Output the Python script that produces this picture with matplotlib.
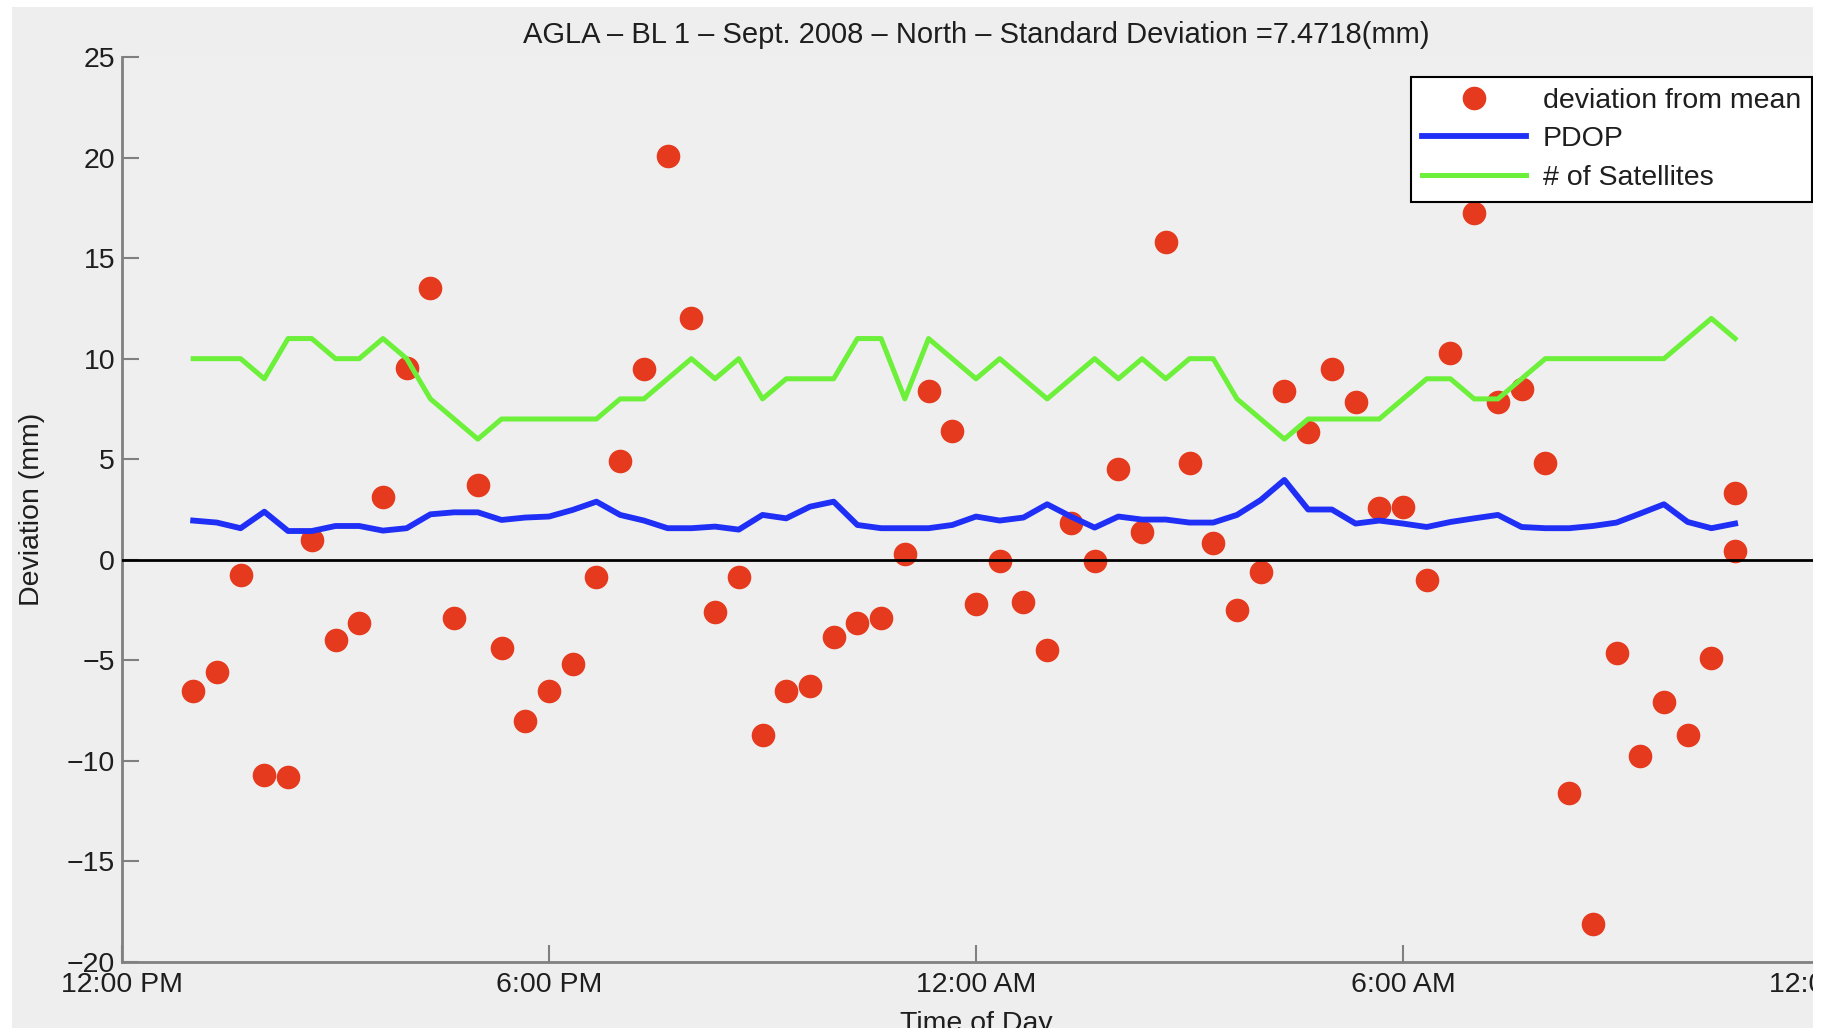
import matplotlib.pyplot as plt
import pandas as pd
from matplotlib.patches import Rectangle

# sample times (every 20 min, 1:00 PM -> 10:40 AM next day)
times = ["13:00", "13:20", "13:40", "14:00", "14:20", "14:40", "15:00", "15:20",
         "15:40", "16:00", "16:20", "16:40", "17:00", "17:20", "17:40", "18:00",
         "18:20", "18:40", "19:00", "19:20", "19:40", "20:00", "20:20", "20:40",
         "21:00", "21:20", "21:40", "22:00", "22:20", "22:40", "23:00", "23:20",
         "23:40", "00:00", "00:20", "00:40", "01:00", "01:20", "01:40", "02:00",
         "02:20", "02:40", "03:00", "03:20", "03:40", "04:00", "04:20", "04:40",
         "05:00", "05:20", "05:40", "06:00", "06:20", "06:40", "07:00", "07:20",
         "07:40", "08:00", "08:20", "08:40", "09:00", "09:20", "09:40", "10:00",
         "10:20", "10:40"]
deviation_times = times + ["10:40"]

deviation = [-6.5, -5.6, -0.75, -10.7, -10.8, 1.0, -4.0, -3.15, 3.1, 9.55,
             13.5, -2.9, 3.7, -4.4, -8.0, -6.5, -5.2, -0.86, 4.9, 9.5,
             20.1, 12.0, -2.6, -0.88, -8.7, -6.5, -6.3, -3.85, -3.15, -2.9,
             0.3, 8.4, 6.4, -2.2, -0.05, -2.1, -4.5, 1.85, -0.05, 4.5,
             1.4, 15.8, 4.8, 0.85, -2.5, -0.6, 8.4, 6.35, 9.5, 7.85,
             2.55, 2.6, -1.0, 10.3, 17.25, 7.85, 8.5, 4.8, -11.6, -18.1,
             -4.65, -9.75, -7.05, -8.7, -4.9, 3.3, 0.45]

pdop = [1.95, 1.85, 1.57, 2.39, 1.43, 1.43, 1.68, 1.68, 1.45, 1.57,
        2.26, 2.36, 2.36, 1.98, 2.1, 2.15, 2.48, 2.89, 2.23, 1.95,
        1.57, 1.57, 1.65, 1.5, 2.23, 2.06, 2.64, 2.89, 1.73, 1.57,
        1.57, 1.57, 1.73, 2.15, 1.95, 2.1, 2.76, 2.15, 1.6, 2.15,
        2.0, 2.0, 1.85, 1.85, 2.23, 2.97, 3.97, 2.5, 2.5, 1.8,
        1.95, 1.8, 1.63, 1.88, 2.06, 2.23, 1.63, 1.57, 1.57, 1.68,
        1.85, 2.3, 2.76, 1.88, 1.57, 1.8]

satellites = [10, 10, 10, 9, 11, 11, 10, 10, 11, 10,
              8, 7, 6, 7, 7, 7, 7, 7, 8, 8,
              9, 10, 9, 10, 8, 9, 9, 9, 11, 11,
              8, 11, 10, 9, 10, 9, 8, 9, 10, 9,
              10, 9, 10, 10, 8, 7, 6, 7, 7, 7,
              7, 8, 9, 9, 8, 8, 9, 10, 10, 10,
              10, 10, 10, 11, 12, 11]

tick_labels = ["12:00 PM", "6:00 PM", "12:00 AM", "6:00 AM", "12:00 PM"]

DAY = "2008-09-10"


def to_time(clock):
    t = pd.Timestamp(DAY + " " + clock)
    if t.hour < 12:
        t += pd.Timedelta(days=1)
    return t


x = [to_time(s) for s in times]
x_dev = [to_time(s) for s in deviation_times]
start = pd.Timestamp(DAY + " 12:00")
end = start + pd.Timedelta(days=1)

plt.rcParams['font.family'] = ['Liberation Sans', 'DejaVu Sans']

W, H = 1827, 1032
fig = plt.figure(figsize=(W / 100, H / 100), dpi=100, facecolor='white')
fig.patches.append(Rectangle((12 / W, 4 / H), 1801 / W, 1021 / H,
                             transform=fig.transFigure, facecolor='#eeeeee',
                             edgecolor='none', zorder=-10))

ax = fig.add_axes([122 / W, 70 / H, 1708 / W, 905 / H])
ax.set_facecolor('#efefef')

ax.plot(x_dev, deviation, 'o', color='#e63a1e', ms=17, mec='none',
        label='deviation from mean', zorder=2)
ax.plot(x, pdop, color='#1f2ff5', lw=4.2, label='PDOP', zorder=3)
ax.plot(x, satellites, color='#6cf03a', lw=3.6, label='# of Satellites', zorder=3)
ax.axhline(0, color='black', lw=2, zorder=4)

ax.set_xlim(start, end)
ax.set_ylim(-20, 25)
ax.set_yticks(range(-20, 26, 5))
ax.set_xticks(pd.date_range(start, end, freq='6h'))
ax.set_xticklabels(tick_labels)

for side in ['top', 'right']:
    ax.spines[side].set_visible(False)
for side in ['left', 'bottom']:
    ax.spines[side].set_color('#808080')
    ax.spines[side].set_linewidth(2)

ax.tick_params(direction='in', length=12, width=1.5, color='#808080',
               labelsize=20.5, labelcolor='#1e1e1e')
ax.tick_params(axis='x', pad=7)
ax.tick_params(axis='y', pad=5)

ax.set_title("AGLA – BL 1 – Sept. 2008 – North – Standard Deviation =7.4718(mm)",
             fontsize=21, color='#1e1e1e', pad=10)
ax.set_ylabel("Deviation (mm)", fontsize=20.5, color='#1e1e1e')
ax.yaxis.set_label_coords(-0.0453, 0.5)
ax.set_xlabel("Time of Day", fontsize=20.5, color='#1e1e1e')
ax.xaxis.set_label_coords(0.5, -0.054)

leg = ax.legend(loc='upper right', bbox_to_anchor=(1812 / W, 1 - 77 / H),
                bbox_transform=fig.transFigure, borderaxespad=0, fontsize=20.5,
                fancybox=False, edgecolor='black', facecolor='white', framealpha=1,
                handlelength=3.65, handletextpad=0.6, labelspacing=0.44,
                borderpad=0.38)
leg.get_frame().set_linewidth(1.5)
for txt in leg.get_texts():
    txt.set_color('#1e1e1e')

# the screenshot is cropped on the right and at the bottom
for rect in [(1813 / W, 0, 14 / W, 1), (0, 0, 1, 4 / H)]:
    fig.patches.append(Rectangle(rect[:2], rect[2], rect[3],
                                 transform=fig.transFigure, facecolor='white',
                                 edgecolor='none', zorder=10))

fig.savefig('out.png', dpi=100, facecolor=fig.get_facecolor())
